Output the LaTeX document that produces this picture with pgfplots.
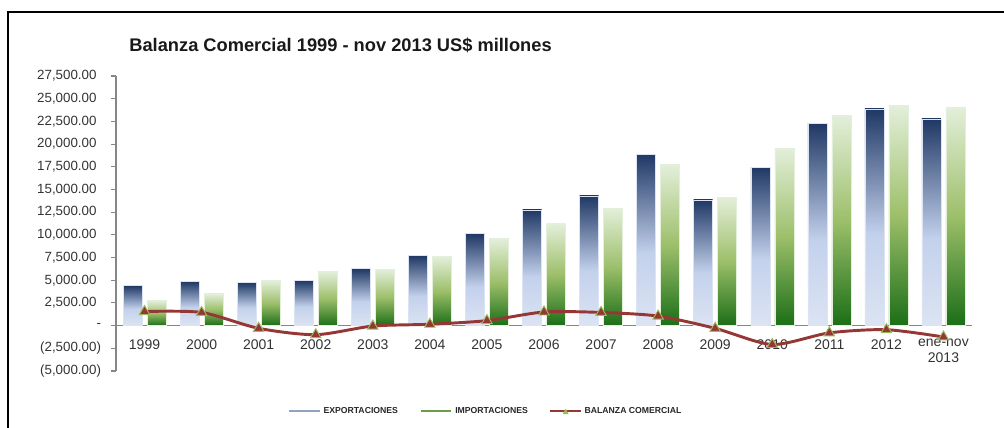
\documentclass[border=0pt]{standalone}
\usepackage{pgfplots}
\usepackage{pgfplotstable}
\pgfplotsset{compat=1.18}
\usepackage{fontspec}
\setmainfont{Liberation Sans}

\definecolor{expTop}{HTML}{1F3864}
\definecolor{expMid}{HTML}{C3D1EC}
\definecolor{expBot}{HTML}{DCE4F3}
\definecolor{impTop}{HTML}{E3EFDA}
\definecolor{impMid}{HTML}{9DBF6A}
\definecolor{impBot}{HTML}{1B6E17}
\definecolor{balred}{HTML}{953735}
\definecolor{balmark}{HTML}{9BBB59}
\definecolor{axisgray}{HTML}{868686}
\definecolor{txt}{HTML}{333333}

% bar gradients (path box maps to 25bp..75bp)
\pgfdeclareverticalshading{expsh}{100bp}{color(0bp)=(expBot); color(25bp)=(expBot); color(46bp)=(expMid); color(75bp)=(expTop); color(100bp)=(expTop)}
\pgfdeclareverticalshading{impsh}{100bp}{color(0bp)=(impBot); color(25bp)=(impBot); color(50bp)=(impMid); color(75bp)=(impTop); color(100bp)=(impTop)}

% US$ millones; x: 0 = 1999 ... 14 = ene-nov 2013
\pgfplotstableread{
x  exp    imp    bal
0  4400   2750   1550
1  4840   3520   1450
2  4730   4950   -300
3  4950   5940   -1000
4  6270   6200   -50
5  7730   7620   150
6  10120  9570   550
7  12760  11220  1500
8  14300  12900  1450
9  18890  17750  1050
10 13860  14160  -300
11 17460  19550  -2080
12 22300  23130  -800
13 23870  24240  -450
14 22770  24050  -1250
}\datatable

\begin{document}
\begin{tikzpicture}
\path[use as bounding box] (0pt,0pt) rectangle (753pt,321pt);
% chart frame (only left and top edges visible)
\draw[black, line width=1.5pt] (6pt,0pt) -- (6pt,312pt) -- (753pt,312pt);
\node[anchor=west, font=\bfseries\fontsize{13.7}{16}\selectfont, text=black!90] at (93.5pt,287.25pt) {Balanza Comercial 1999 - nov 2013 US\$ millones};

\begin{axis}[
  at={(87pt,42.75pt)}, anchor=south west,
  scale only axis, width=642pt, height=221.25pt,
  xmin=-0.5, xmax=14.5, ymin=-5000, ymax=27500,
  enlargelimits=false, clip=false, scaled y ticks=false,
  axis y line*=left, axis x line*=middle,
  hide obscured x ticks=false, hide obscured y ticks=false,
  y axis line style={draw=axisgray, line width=0.8pt, -},
  x axis line style={draw=axisgray, line width=0.8pt, -},
  xtick={0,...,14},
  xticklabels={1999,2000,2001,2002,2003,2004,2005,2006,2007,2008,2009,2010,2011,2012,{ene-nov\\2013}},
  xticklabel style={align=center, font=\fontsize{10.5}{11.5}\selectfont, text=txt, yshift=-3pt},
  major x tick style={draw=none},
  ytick={-5000,-2500,0,2500,5000,7500,10000,12500,15000,17500,20000,22500,25000,27500},
  yticklabels={{(5,000.00)},{(2,500.00)},{-\hspace{9pt}},{2,500.00\hphantom{)}},{5,000.00\hphantom{)}},{7,500.00\hphantom{)}},{10,000.00\hphantom{)}},{12,500.00\hphantom{)}},{15,000.00\hphantom{)}},{17,500.00\hphantom{)}},{20,000.00\hphantom{)}},{22,500.00\hphantom{)}},{25,000.00\hphantom{)}},{27,500.00\hphantom{)}}},
  yticklabel style={font=\fontsize{10}{12}\selectfont, text=txt, xshift=-4pt},
  tick align=outside, major tick length=3.75pt,
  major y tick style={draw=axisgray, line width=0.8pt},
  legend columns=3,
  legend style={at={(0.432,-0.1356)}, anchor=center, draw=none, fill=none,
    font=\bfseries\fontsize{6.5}{7}\selectfont, text=black!85,
    /tikz/every even column/.append style={column sep=14pt}},
  legend image post style={sharp plot},
  legend image code/.code={\draw[#1] (0pt,0pt) -- (23pt,0pt);},
]

% one plot per bar, so that each bar gets its own gradient
\pgfplotsinvokeforeach{0,...,14}{
  % EXPORTACIONES
  \addplot[forget plot, ybar, bar width=14.25pt, bar shift=-9pt,
    shade, shading=expsh, draw=expBot, line width=0.4pt,
    restrict x to domain=#1:#1]
    table[x=x, y=exp] {\datatable};
  % IMPORTACIONES
  \addplot[forget plot, ybar, bar width=14.25pt, bar shift=9pt,
    shade, shading=impsh, draw=impTop, line width=0.4pt,
    restrict x to domain=#1:#1]
    table[x=x, y=imp] {\datatable};
}

% BALANZA COMERCIAL
\addplot[forget plot, balred, line width=2.2pt, smooth, tension=0.45,
  mark=triangle*, mark size=4.5pt,
  mark options={fill=balred, draw=balmark, line width=0.7pt, solid}]
  table[x=x, y=bal] {\datatable};

\addlegendimage{color=expMid!70!expTop, line width=2pt}
\addlegendimage{color=impMid!60!impBot, line width=2pt}
\addlegendimage{legend image code/.code={\draw[balred, line width=1.6pt] (0pt,0pt) -- (23pt,0pt);
  \path[fill=balmark, draw=balmark] plot[mark=triangle*, mark size=2.2pt] coordinates {(11.5pt,-1pt)};}}
\legend{EXPORTACIONES, IMPORTACIONES, BALANZA COMERCIAL}
\end{axis}
\end{tikzpicture}
\end{document}
